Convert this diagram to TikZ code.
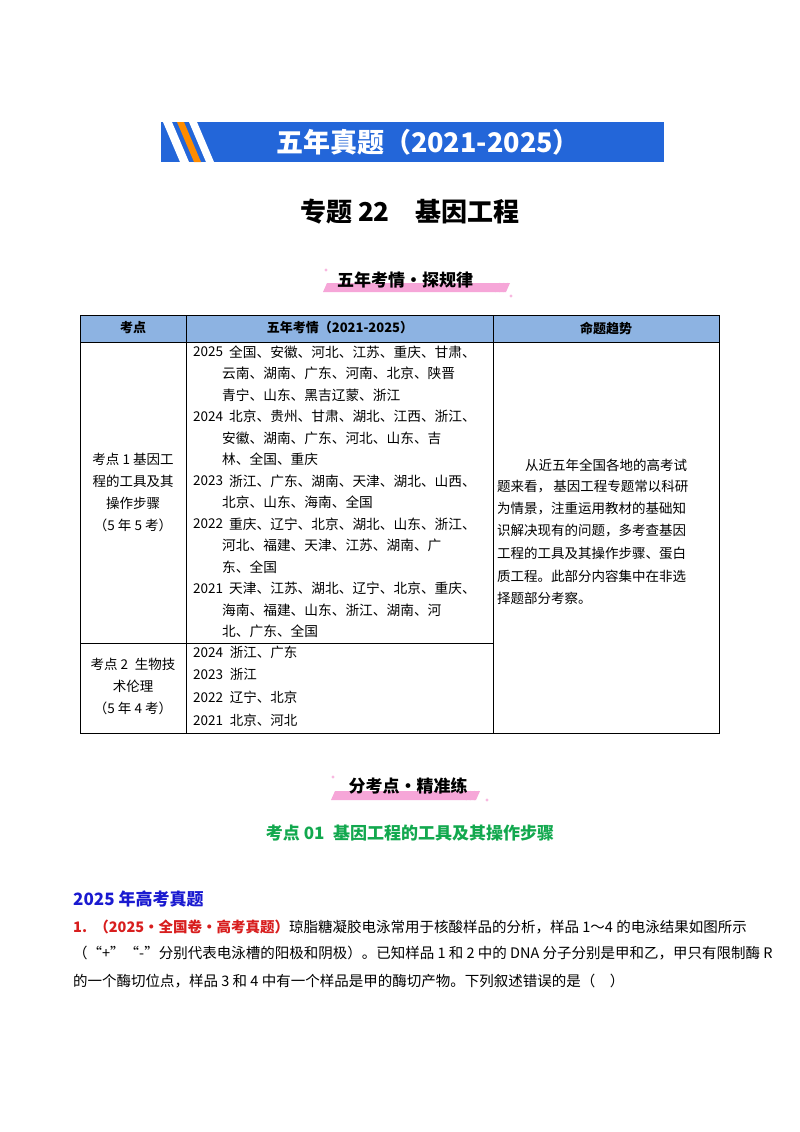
\documentclass[tikz,border=0pt]{standalone}
\usepackage{fontspec}
\setmainfont{Noto Sans CJK SC}
\definecolor{banner}{HTML}{2366D9}
\definecolor{hdr}{HTML}{8DB3E2}
\definecolor{pinkb}{HTML}{F6A6D8}
\definecolor{greent}{HTML}{12A84E}
\definecolor{bluet}{HTML}{1A1AD0}
\definecolor{redt}{HTML}{D81E1E}
\begin{document}
\begin{tikzpicture}[x=1pt,y=-1pt,
  cell/.style={anchor=west,inner sep=0pt,font=\fontsize{13.5}{14}\selectfont},
  mid/.style={anchor=west,inner sep=0pt,font=\fontsize{13.7}{14}\selectfont},
  ctr/.style={inner sep=0pt,font=\fontsize{13.5}{14}\selectfont},
  para/.style={anchor=west,inner sep=0pt,font=\fontsize{14.5}{15}\selectfont},
  grid/.style={draw=black,line width=0.7pt}]
\useasboundingbox[fill=white] (0,0) rectangle (800,1132);
% banner
\fill[banner] (161,122) rectangle (664,162);
\fill[white] (163,122) -- (172,122) -- (189,162) -- (180,162) -- cycle;
\fill[orange!90!yellow] (177,122) -- (184,122) -- (201,162) -- (194,162) -- cycle;
\fill[white] (189,122) -- (197,122) -- (214,162) -- (206,162) -- cycle;
\node[text=white,font=\bfseries\fontsize{27}{28}\selectfont] (bt) at (428,142) {五年真题（2021-2025）};
\node[font=\bfseries\fontsize{26}{28}\selectfont] (title) at (410,212) {专题 22\quad 基因工程};
% badge 1
\fill[pinkb] (327,283) -- (510,283) -- (506,292) -- (323,292) -- cycle;
\foreach \i in {0,4,8} \draw[pinkb,line width=1pt] (495+\i,292) -- (500+\i,283);
\fill[pinkb!80] (326,270) circle (1.6);
\fill[pinkb!80] (511,296) circle (1.6);
\node[font=\bfseries\fontsize{17}{18}\selectfont] (b1) at (405,280) {五年考情·探规律};
% table
\fill[hdr] (80,315) rectangle (719,342);
\draw[grid] (80,315) rectangle (719,733);
\draw[grid] (80,342) -- (719,342);
\draw[grid] (80,643) -- (493,643);
\draw[grid] (186,315) -- (186,733);
\draw[grid] (493,315) -- (493,733);
\node[ctr,font=\bfseries\fontsize{13}{14}\selectfont] (h1) at (133,328) {考点};
\node[ctr,font=\bfseries\fontsize{13}{14}\selectfont] (h2) at (340,328) {五年考情（2021-2025）};
\node[ctr,font=\bfseries\fontsize{13}{14}\selectfont] (h3) at (606,328) {命题趋势};
\node[ctr] (l1) at (133,459) {考点 1 基因工};
\node[ctr] (l2) at (133,481) {程的工具及其};
\node[ctr] (l3) at (133,503) {操作步骤};
\node[ctr] (l4) at (133,525) {（5 年 5 考）};
\node[ctr] (m1) at (133,664) {考点 2\enspace 生物技};
\node[ctr] (m2) at (133,686) {术伦理};
\node[ctr] (m3) at (133,708) {（5 年 4 考）};
% middle column
\node[cell] (y25) at (193,352) {2025};
\node[mid] (a1) at (229,352) {全国、安徽、河北、江苏、重庆、甘肃、};
\node[mid] (a2) at (222,373.5) {云南、湖南、广东、河南、北京、陕晋};
\node[mid] (a3) at (222,395) {青宁、山东、黑吉辽蒙、浙江};
\node[cell] (y24) at (193,416.5) {2024};
\node[mid] (a4) at (229,416.5) {北京、贵州、甘肃、湖北、江西、浙江、};
\node[mid] (a5) at (222,438) {安徽、湖南、广东、河北、山东、吉};
\node[mid] (a6) at (222,459.5) {林、全国、重庆};
\node[cell] (y23) at (193,481) {2023};
\node[mid] (a7) at (229,481) {浙江、广东、湖南、天津、湖北、山西、};
\node[mid] (a8) at (222,502.5) {北京、山东、海南、全国};
\node[cell] (y22) at (193,524) {2022};
\node[mid] (a9) at (229,524) {重庆、辽宁、北京、湖北、山东、浙江、};
\node[mid] (a10) at (222,545.5) {河北、福建、天津、江苏、湖南、广};
\node[mid] (a11) at (222,567) {东、全国};
\node[cell] (y21) at (193,588.5) {2021};
\node[mid] (a12) at (229,588.5) {天津、江苏、湖北、辽宁、北京、重庆、};
\node[mid] (a13) at (222,610) {海南、福建、山东、浙江、湖南、河};
\node[mid] (a14) at (222,631.5) {北、广东、全国};
\node[cell] (r1) at (193,652) {2024\enspace 浙江、广东};
\node[cell] (r2) at (193,674) {2023\enspace 浙江};
\node[cell] (r3) at (193,697) {2022\enspace 辽宁、北京};
\node[cell] (r4) at (193,720) {2021\enspace 北京、河北};
% right column
\node[cell] (t1) at (525,465) {从近五年全国各地的高考试};
\node[cell] (t2) at (497,487) {题来看，\,基因工程专题常以科研};
\node[cell] (t3) at (497,509) {为情景，注重运用教材的基础知};
\node[cell] (t4) at (497,531) {识解决现有的问题，多考查基因};
\node[cell] (t5) at (497,553) {工程的工具及其操作步骤、蛋白};
\node[cell] (t6) at (497,576) {质工程。此部分内容集中在非选};
\node[cell] (t7) at (497,598) {择题部分考察。};
% badge 2
\fill[pinkb] (335,791) -- (480,791) -- (476,800) -- (331,800) -- cycle;
\foreach \i in {0,4,8} \draw[pinkb,line width=1pt] (466+\i,800) -- (471+\i,791);
\fill[pinkb!80] (333,777) circle (1.6);
\fill[pinkb!80] (487,800) circle (1.6);
\node[font=\bfseries\fontsize{17}{18}\selectfont] (b2) at (408,786) {分考点·精准练};
\node[text=greent,font=\bfseries\fontsize{17}{18}\selectfont] (k1) at (410,833) {考点 01\enspace 基因工程的工具及其操作步骤};
\node[anchor=west,inner sep=0pt,text=bluet,font=\bfseries\fontsize{17}{18}\selectfont] (yr) at (73,899) {2025 年高考真题};
\node[para] (p1) at (73,927) {\textcolor{redt}{\bfseries 1.\enspace（2025·全国卷·高考真题）}琼脂糖凝胶电泳常用于核酸样品的分析，样品 1～4 的电泳结果如图所示};
\node[para] (p2) at (73,953) {（“+”“-”分别代表电泳槽的阳极和阴极）。已知样品 1 和 2 中的 DNA 分子分别是甲和乙，甲只有限制酶 R};
\node[para] (p3) at (73,981) {的一个酶切位点，样品 3 和 4 中有一个样品是甲的酶切产物。下列叙述错误的是（\quad ）};
\end{tikzpicture}
\end{document}
